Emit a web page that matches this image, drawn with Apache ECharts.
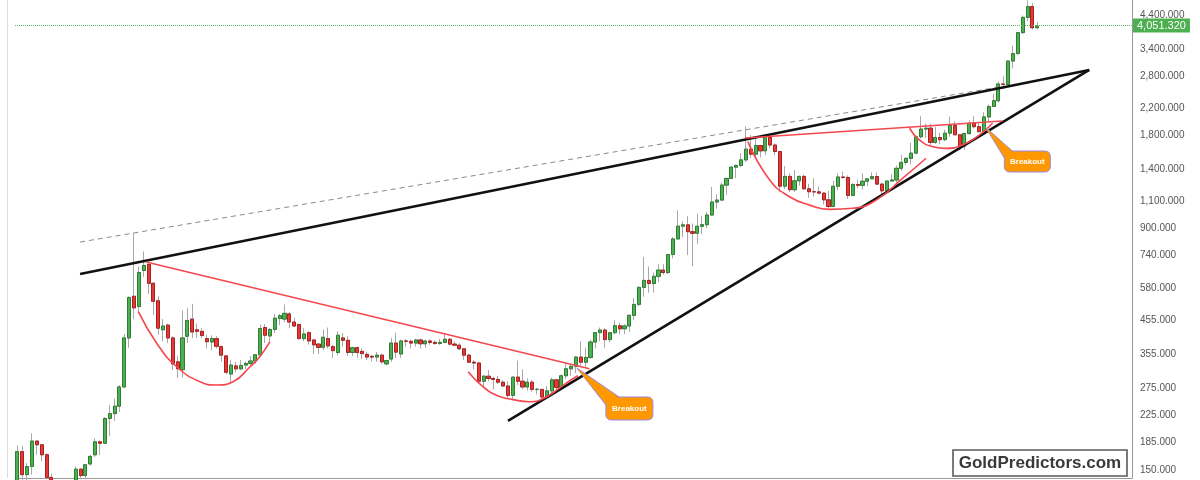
<!DOCTYPE html>
<html><head><meta charset="utf-8">
<script src="https://cdn.jsdelivr.net/npm/echarts@6/dist/echarts.min.js"></script>
<style>html,body{margin:0;padding:0;background:#fff;}#c{width:1200px;height:480px;}</style>
</head><body><div id="c"></div>
<script>
// ---------- data (quarterly gold, 1974 Q1 .. 2026 Q3) ----------
const startYear = 1974;
const opens = [116,172,145,154,186,181,168,142,139,129,124,116,134,151,144,157,168,185,183,220,228,241,278,400,545,505,660,690,600,527,425,440,400,335,316,405,460,425,420,398,388,398,375,350,306,325,318,327,331,337,353,432,406,426,462,460,478,450,442,398,416,394,382,373,398,375,359,400,393,359,372,362,354,349,347,352,330,342,385,355,391,390,385,394,383,391,387,384,387,396,382,379,369,352,334,332,290,301,296,294,288,280,261,299,290,278,288,273,273,258,270,293,277,302,318,324,347,334,346,388,416,424,395,416,438,428,437,473,513,582,613,599,632,662,650,743,834,917,926,880,870,916,927,996,1097,1113,1244,1307,1421,1439,1500,1624,1565,1669,1604,1772,1675,1596,1234,1327,1202,1284,1327,1210,1184,1183,1172,1115,1061,1233,1321,1316,1152,1249,1242,1280,1303,1325,1253,1192,1282,1292,1409,1472,1517,1577,1781,1886,1898,1708,1770,1743,1829,1937,1807,1661,1824,1969,1919,1849,2063,2230,2327,2635,2625,3124,3303,3858,4320,4680,4000];
const highs = [180,179,158,197,187,182,170,146,141,133,125,140,154,152,156,168,190,187,222,243,255,282,412,545,870,680,760,700,605,545,460,445,405,350,490,500,515,445,430,410,408,405,378,352,340,335,340,335,350,355,442,443,430,478,478,513,485,465,445,430,420,395,385,426,432,380,420,415,405,375,375,370,360,352,360,356,340,400,416,395,396,395,398,398,395,396,392,397,415,400,390,385,371,356,340,335,304,315,300,302,292,290,300,338,317,296,292,276,273,280,298,293,305,332,328,350,390,372,395,417,432,430,416,456,448,443,476,538,587,730,680,650,690,692,745,845,1032,950,988,935,1007,990,1018,1227,1162,1265,1308,1432,1448,1577,1921,1803,1791,1678,1790,1796,1696,1605,1434,1361,1392,1332,1345,1255,1308,1233,1178,1192,1283,1358,1375,1337,1263,1296,1357,1307,1366,1365,1265,1287,1346,1439,1557,1525,1704,1789,2075,1966,1959,1916,1834,1877,2070,1998,1814,1833,2009,2081,1987,2135,2265,2450,2686,2790,3128,3500,3791,4380,4900,4800,4170];
const lows = [115,129,130,145,168,160,140,128,123,122,103,110,129,140,140,155,165,168,182,193,216,231,276,372,460,480,630,555,475,410,390,385,315,297,298,385,400,400,400,370,365,370,335,305,284,310,315,318,325,330,347,385,390,415,440,450,430,435,395,390,380,355,355,365,370,345,352,375,350,350,345,342,340,336,335,330,326,335,345,345,375,370,375,370,372,380,380,380,385,378,376,365,340,332,316,284,278,290,273,284,278,257,252,282,273,270,268,263,255,255,263,271,277,295,302,308,326,320,342,370,390,372,387,410,410,412,418,456,505,543,560,560,605,640,642,722,833,845,740,681,802,865,905,990,1045,1106,1157,1300,1309,1420,1478,1522,1523,1527,1554,1635,1554,1180,1207,1182,1182,1240,1206,1131,1142,1162,1077,1046,1061,1200,1306,1123,1146,1214,1204,1236,1302,1245,1160,1181,1276,1266,1381,1445,1451,1567,1757,1764,1677,1690,1688,1722,1780,1805,1615,1614,1805,1893,1847,1810,1985,2222,2294,2537,2614,2957,3268,3820,4200,3950,3960];
const closes = [172,145,154,186,181,168,142,139,129,124,116,134,151,144,156,166,185,183,220,228,241,278,400,540,500,650,685,600,525,430,437,400,330,318,400,455,418,420,407,389,398,376,352,310,327,318,326,331,337,353,429,408,426,463,472,480,450,437,398,412,391,380,373,402,377,364,408,393,359,372,359,356,347,347,352,335,338,385,360,391,390,385,394,383,391,387,384,387,396,382,379,369,352,334,332,290,301,296,294,288,280,261,299,290,278,288,273,273,258,270,293,277,302,318,324,347,334,346,388,416,424,395,416,438,428,437,473,513,582,613,599,632,662,650,743,834,917,926,880,870,916,927,996,1097,1113,1244,1307,1421,1439,1500,1624,1565,1669,1604,1772,1675,1596,1234,1327,1202,1284,1327,1210,1184,1183,1172,1115,1061,1233,1321,1316,1152,1249,1242,1280,1303,1325,1253,1192,1282,1292,1409,1472,1517,1577,1781,1886,1898,1708,1770,1743,1829,1937,1807,1661,1824,1969,1919,1849,2063,2230,2327,2635,2625,3124,3303,3858,4320,4680,4000,4051.32];
const lastPrice = 4051.32;
const yTicks = [150,185,225,275,355,455,580,740,900,1100,1400,1800,2200,2800,3400,4400];
const yRange = [141.4, 4915];
const slotCount = 230;               // category slots incl. empty right margin

// annotation lines in data space: [quarter index, price]
const resistanceLine = [[12.9,643],[220.7,2925]];
const dashedLine     = [[12.9,815],[202.2,2577]];
const supportLine    = [[101,216],[220.7,2925]];
const descRedLine    = [[26.5,703],[117.8,318]];
const rimLine        = [[149.9,1765],[202.8,2003]];
const cupLeft   = [[24.9,486],[28.7,384],[32.8,323],[37.6,289],[41.0,282],[44.4,289],[47.9,323],[49.9,348],[52.0,389]];
const cupMiddle = [[92.8,311],[95.9,278],[99.0,260],[102.1,253],[105.5,249],[108.9,258],[113.0,286],[115.4,302]];
const cupRight  = [[150.4,1717],[154.9,1292],[159.0,1141],[163.1,1072],[167.2,1039],[172.0,1047],[176.8,1113],[182.3,1309],[187.1,1518]];
const cupSmall  = [[183.7,1897],[185.7,1739],[188.5,1654],[191.2,1634],[194.6,1676],[198.1,1805],[200.8,1968]];
const breakouts = [[115.2,320],[199.3,1915]];
const breakoutText = 'Breakout';
const watermark = 'GoldPredictors.com';

// ---------- build ----------
const L = Math.log;
function fmt(v){const s=v.toFixed(3).split('.');return s[0].replace(/\B(?=(\d{3})+(?!\d))/g,',')+'.'+s[1];}
const quarters = [];
for (let i=0;i<slotCount;i++) quarters.push((startYear+Math.floor(i/4))+' Q'+(i%4+1));
const wickData = opens.map((o,i)=>[L(o),L(closes[i]),L(lows[i]),L(highs[i])]);
const bodyData = opens.map((o,i)=>{const c=closes[i];return [L(o),L(c),L(Math.min(o,c)),L(Math.max(o,c))];});

const RED='#f5474d';
function lineS(pts,color,width,type,smooth){
  return {type:'line',xAxisIndex:1,yAxisIndex:0,data:pts.map(p=>[p[0],L(p[1])]),symbol:'none',smooth:smooth||false,
    lineStyle:{color:color,width:width,type:type||'solid'},silent:true,z:5,clip:false,animation:false};
}
const chart = echarts.init(document.getElementById('c'),null,{renderer:'canvas'});
chart.setOption({
  animation:false,
  backgroundColor:'#ffffff',
  grid:{left:15,right:68,top:0,bottom:2,containLabel:false},
  xAxis:[
    {type:'category',data:quarters,boundaryGap:true,axisLine:{show:true,onZero:false,lineStyle:{color:'#9a9a9a'}},axisTick:{show:false},axisLabel:{show:false},splitLine:{show:false}},
    {type:'value',min:-0.5,max:slotCount-0.5,show:false,axisLine:{onZero:false}}
  ],
  yAxis:[
    {type:'value',position:'right',min:L(yRange[0]),max:L(yRange[1]),splitLine:{show:false},
     axisLine:{show:true,onZero:false,lineStyle:{color:'#9a9a9a'}},axisTick:{show:false},
     axisLabel:{customValues:yTicks.map(L),formatter:v=>fmt(Math.round(Math.exp(v))),color:'#555',fontSize:10,fontFamily:'Liberation Sans',margin:8}}
  ],
  series:[
    {type:'candlestick',name:'wick',data:wickData,barWidth:3.6,clip:true,silent:true,
     itemStyle:{color:'rgba(0,0,0,0)',color0:'rgba(0,0,0,0)',borderColor:'#a8a8a8',borderColor0:'#a8a8a8',borderWidth:1},
     markLine:{silent:true,symbol:['none','none'],data:[{yAxis:L(lastPrice)}],
       lineStyle:{color:'#5cb860',type:'dotted',width:1},
       label:{show:true,position:'end',formatter:fmt(lastPrice),backgroundColor:'#4caf50',color:'#fff',padding:[2,4,1,4],fontSize:11,fontFamily:'Liberation Sans',distance:1}}},
    {type:'candlestick',name:'body',data:bodyData,barWidth:3.6,clip:true,silent:true,
     itemStyle:{color:'#4caf50',color0:'#e53935',borderColor:'#2f7d32',borderColor0:'#a82020',borderWidth:1}},
    lineS(dashedLine,'#8a8a8a',1,[5,4]),
    lineS(resistanceLine,'#111',2.6),
    lineS(supportLine,'#111',2.6),
    lineS(descRedLine,RED,1.5),
    lineS(rimLine,RED,1.5),
    lineS(cupLeft,RED,1.6,'solid',0.5),
    lineS(cupMiddle,RED,1.6,'solid',0.5),
    lineS(cupRight,RED,1.6,'solid',0.5),
    lineS(cupSmall,RED,1.6,'solid',0.5)
  ]
});

// callouts anchored to data points (offsets are layout only)
const calloutLayout = [
  {base:[[43,29.5],[29,37]], box:[29,29,47,23]},
  {base:[[27,24],[19,31]],   box:[19,24,46,21]}
];
const gfx=[];
gfx.push({type:'line',shape:{x1:7.5,y1:0,x2:7.5,y2:478},style:{stroke:'#dcdcdc',lineWidth:1},z:1});
breakouts.forEach((b,k)=>{
  const p = chart.convertToPixel({seriesIndex:4},[b[0],L(b[1])]);
  const c = calloutLayout[k];
  const poly=[[p[0],p[1]],[p[0]+c.base[0][0],p[1]+c.base[0][1]],[p[0]+c.base[1][0],p[1]+c.base[1][1]]];
  const bx=p[0]+c.box[0], by=p[1]+c.box[1], bw=c.box[2], bh=c.box[3];
  gfx.push({type:'polygon',shape:{points:poly},style:{fill:'#ff9800',stroke:'#9b8be0',lineWidth:1},z:100});
  gfx.push({type:'rect',shape:{x:bx,y:by,width:bw,height:bh,r:5},style:{fill:'#ff9800',stroke:'#9b8be0',lineWidth:1},z:101});
  const inner=[[p[0]+1,p[1]+1.5],[p[0]+c.base[0][0]+2,p[1]+c.base[0][1]+2.5],[p[0]+c.base[1][0]+2.5,p[1]+c.base[1][1]+1]];
  gfx.push({type:'polygon',shape:{points:inner},style:{fill:'#ff9800'},z:102});
  gfx.push({type:'text',style:{text:breakoutText,x:bx+bw/2,y:by+bh/2,align:'center',verticalAlign:'middle',fill:'#fff',font:'bold 8px "Liberation Sans"'},z:103});
});
gfx.push({type:'rect',shape:{x:953,y:450,width:174,height:26},style:{fill:'#fff',stroke:'#5a5a5a',lineWidth:1.6},z:110});
gfx.push({type:'text',style:{text:watermark,x:1040,y:463.5,align:'center',verticalAlign:'middle',fill:'#3a3a3a',font:'bold 17px "Liberation Sans"'},z:111});
chart.setOption({graphic:gfx});
</script></body></html>
